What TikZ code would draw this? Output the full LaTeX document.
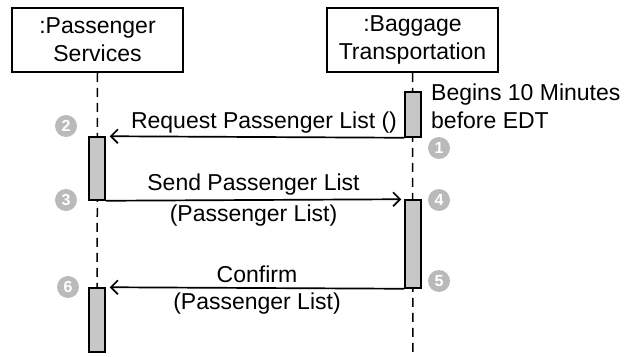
\documentclass[tikz,border=0pt]{standalone}
\usepackage{fontspec}
\setmainfont{Liberation Sans}
\usetikzlibrary{arrows.meta}
\newcommand{\lblfont}{\fontsize{23}{28}\selectfont}
\tikzset{
  obj/.style={draw, line width=1.7pt, minimum width=171pt, minimum height=64pt, align=center, font=\lblfont},
  lifeline/.style={line width=1.5pt, dash pattern=on 9pt off 6pt},
  actbar/.style={draw, line width=1.5pt, fill=black!22, minimum width=16pt, inner sep=0pt},
  msg/.style={line width=1.7pt, -{Straight Barb[length=7pt,width=14pt]}},
  numdot/.style={circle, fill=black!27, text=white, inner sep=0pt, minimum size=22pt, font=\fontsize{16}{16}\selectfont\bfseries},
  lbl/.style={font=\lblfont, inner sep=1pt}
}
\begin{document}
\begin{tikzpicture}[x=1pt,y=-1pt]
\useasboundingbox (0,0) rectangle (634,356);
% objects
\node[obj] (ps) at (97.5,40) {:Passenger\\Services};
\node[obj] (bt) at (412.5,40) {:Baggage\\Transportation};
% lifelines
\coordinate (psend) at (97,356);
\coordinate (btend) at (413,356);
\draw[lifeline] (ps.south) -- (psend);
\draw[lifeline] (bt.south) -- (btend);
% activations
\node[actbar, minimum height=45pt] (bt1) at (413,114.5) {};
\node[actbar, minimum height=63pt] (ps1) at (97,168.5) {};
\node[actbar, minimum height=88pt] (bt2) at (413,244) {};
\node[actbar, minimum height=64pt] (ps2) at (97,320) {};
% messages
\draw[msg] (bt1.south west) -- ([xshift=4pt]ps1.north east)
  node[lbl, midway, above=2pt, xshift=7pt] (reqlbl) {Request Passenger List ()};
\draw[msg] (ps1.south east) -- ([xshift=-3pt]bt2.north west)
  node[lbl, midway, above=3pt] (sendlbl) {Send Passenger List}
  node[lbl, midway, below=3pt] (sendarg) {(Passenger List)};
\draw[msg] (bt2.south west) -- ([xshift=4pt]ps2.north east)
  node[lbl, midway, above=3pt] (conflbl) {Confirm}
  node[lbl, midway, below=3pt] (confarg) {(Passenger List)};
\node[lbl, anchor=west, align=left] (note) at (430,106) {Begins 10 Minutes\\before EDT};
% step numbers
\node[numdot] (n1) at (439,148) {1};
\node[numdot] (n2) at (66,126) {2};
\node[numdot] (n3) at (66,200) {3};
\node[numdot] (n4) at (439,200) {4};
\node[numdot] (n5) at (439,281) {5};
\node[numdot] (n6) at (68,287) {6};
\end{tikzpicture}
\end{document}
